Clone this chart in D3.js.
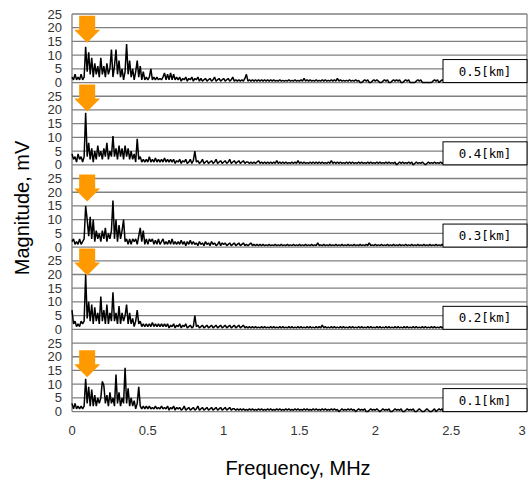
<!DOCTYPE html>
<html lang="en">
<head>
<meta charset="UTF-8">
<title>Spectrum by distance</title>
<style>
    body { margin: 0; background: #fff; }
    svg { display: block; }
    .tick-label { font-family: "Liberation Sans", Arial, sans-serif; font-size: 13px; fill: #333; }
    .axis-title { font-family: "Liberation Sans", Arial, sans-serif; font-size: 20px; fill: #000; }
    .dist-label { font-family: "DejaVu Sans Mono", monospace; font-size: 12.5px; fill: #000; }
</style>
</head>
<body>
<svg id="chart" width="529" height="482"></svg>
<script src="https://d3js.org/d3.v7.min.js"></script>
<script>
// distance labels, top panel first
const distances = ["0.5[km]", "0.4[km]", "0.3[km]", "0.2[km]", "0.1[km]"];
const xTicks = [0, 0.5, 1, 1.5, 2, 2.5, 3];
const yTicks = [0, 5, 10, 15, 20, 25];
const freqStep = 0.01; // MHz between samples
const arrowFreq = 0.1;
const arrowTip = [14.5, 19.4, 16.6, 19.6, 12.5];

// magnitude in mV, sampled every 0.01 MHz from 0 to 2.45 MHz
const mag05 = [
    2,1,3,1,2,1,3,1,2,13,
    4,11,3,9,2,7,3,6,2,9,
    3,6,2,7,3,5,12,2,6,12,
    3,8,2,5,1,4,14,3,8,2,
    5,1,4,8,2,6,1,4,1,2,
    1,2,5,1,2,1,2,1,1.5,1,
    2,3.5,1,3,1,3.5,1,3,1,2,
    1,2,0.5,1.5,1,2,0.5,1.5,1,2,
    0.5,1.5,1,2,0.5,1.5,0.5,1,1.5,0.5,
    1,1.5,0.5,1,2,0.5,1,1.5,0.5,1,
    1.5,0.5,1,1.5,0.5,1,2,0.5,1,0.5,
    1,0.5,1,0.5,1.5,3,0.5,1,0.5,1,
    0.5,1,0.5,1,0.5,1,0.5,1,0.5,1,
    0.5,1,0.5,1,0.5,0.8,0.5,1,0.5,0.8,
    0.5,0.8,0.5,1,0.5,0.8,0.5,1,0.5,0.8,
    0.5,1,0.5,1.5,0.5,1,0.5,1,0.5,0.8,
    0.5,1,0.5,0.8,0.5,1,0.5,1,0.5,0.8,
    0.5,1,0.5,1,0.5,1.5,0.5,1,0.5,0.8,
    0.5,0.8,0.5,1,0.5,0.8,0.5,1,0.5,0.8,
    0,0,0.5,1,0.5,1,0,0,0.5,1,
    0.5,1,0.5,0,0,0.5,1,0.5,1,0,
    0,0.5,1,0.5,1,0.5,1,0,0,0.5,
    1,0.5,1,0,0,0,0,0.5,1,0.5,
    1,0,0,0,0,0,0,0,0.5,1,
    0.5,1,0,0.5,1,0.5
];
const mag04 = [
    4,2,3,1,4,2,3,1,3,19,
    3,8,2,6,1,5,2,7,3,5,
    2,6,3,8,2,5,3,10.5,3,6,
    2,7,3,6,2,7,3,6,2,5,
    2,4,1,9.5,2,3,1,2,1,2,
    1,3,1,2,1,2.5,1,2,1,2,
    1,2.5,1,2,1,2,1,2,0.5,1.5,
    1,2,0.5,1.5,1,2,0.5,1,2,0.5,
    1.5,5,1,1.5,0.5,1,2,0.5,1,1.5,
    0.5,1,1.5,0.5,1,2,0.5,1,1.5,0.5,
    1,1.5,0.5,1,2,0.5,1,1.5,0.5,1,
    1.5,0.5,1,1.5,0.5,1,1,0.5,1,0.5,
    1,0.5,1,1.5,0.5,1,0.5,1,0.5,1,
    0.5,1,0.5,1,0.5,1.5,0.5,1,0.5,1,
    0.5,1,0.5,0.8,0.5,1,0.5,1,0.5,1.5,
    0.5,1,0.5,1,0.5,0.8,0.5,1,0.5,1,
    0.5,1,0.5,1,0.5,1,0.5,0.8,0.5,1,
    0.5,1.5,0.5,1,0.5,1,0.5,1,0.5,0.8,
    0.5,1,0.5,1,0.5,1,0.5,0.8,0.5,1,
    0.5,1,0.5,0.8,0.5,1,0.5,1,0.5,0.8,
    0.5,1,0.5,1,0.5,0.8,0.5,1,0.5,1,
    0.5,0.8,0.5,1,0,0.5,1,0.5,1,0.5,
    0.8,0.5,1,0.5,1,0,0.5,1,0.5,0.8,
    0.5,1,0.5,0,0.5,1,0.5,0.8,0.5,1,
    0.5,0.8,0.5,1,0.5,0.8
];
const mag03 = [
    2,3,1,2,1,3,1,2,3,15,
    10,4,11,3,10,2,6,3,5,2,
    6,3,7,2,5,3,6,17,3,10,
    2,8,3,6,10,2,3,1,3,1,
    3,2,3,1,4,7,2,6,1,3,
    1,3,2,3,1,2.5,1,3,1,2,
    3,1,2,1,2.5,1,3,1,2,1,
    2,1,2.5,1,2,0.5,2,1,2.5,1,
    2,1,1.5,0.5,2,1,1.5,0.5,2,1,
    1.5,0.5,2,1,1.5,0.5,1,2,0.5,1.5,
    1,1.5,0.5,1,1.5,0.5,1,1.5,0.5,1,
    1.5,0.5,1,1.5,0.5,1,0.5,1,1.5,0.5,
    1,0.5,1,0.5,1,0.5,1,0.5,0.8,0.5,
    1,0.5,0.8,0.5,1,0.5,0.8,0.5,1,0.5,
    0.8,0.5,1,0.5,0.8,0.5,1,0.5,0.8,0.5,
    1,0.5,0.8,0.5,1,0.5,0.8,0.5,1,0.5,
    0.8,0.5,1.5,0.5,0.8,0.5,1,0.5,0.8,0.5,
    1,0.5,0.8,0.5,1,0.5,0.8,0.5,1,0.5,
    0.8,0.5,1,0.5,0.8,0.5,1,0.5,0.8,0.5,
    1,0.5,0.8,0.5,1,0.5,1.5,0.5,0.8,0.5,
    1,0.5,0.8,0.5,1,0.5,0.8,0.5,1,0.5,
    0.8,0.5,1,0.5,0.8,0.5,1,0.5,0.8,0.5,
    1,0.5,0.8,0.5,1,0.5,0.8,0.5,1,0.5,
    0.8,0.5,1,0.5,0.8,0.5,1,0.5,0.8,0.5,
    1,0.5,0.8,0.5,1,0.5
];
const mag02 = [
    7,2,3,1,2,1,3,2,3,20,
    4,10,3,9,2,8,3,6,2,12,
    3,7,2,9,2,6,3,13.5,3,6,
    2,8.5,2,6,3,5,9,2,6,2,
    4,1,3,7,2,3,1,2,1,2,
    1,2,1,2.5,1,2,1,2,1,2,
    1,2,1,2,0.5,1.5,1,2,0.5,1.5,
    1,2,0.5,1.5,1,2,0.5,1,1.5,0.5,
    1,5,1,1.5,0.5,1,1.5,0.5,1,1.5,
    0.5,1,1.5,0.5,1,1.5,0.5,1,1.5,0.5,
    1,1.5,0.5,1,1.5,0.5,1,1.5,0.5,1,
    1.5,0.5,1,1.5,0.5,1,0.5,1,0.5,1,
    0.5,1,0.5,0.8,0.5,1,0.5,1,0.5,0.8,
    0.5,1,0.5,1,0.5,0.8,0.5,1,0.5,1,
    0.5,0.8,0.5,1,0.5,1,0.5,0.8,0.5,1,
    0.5,1,0.5,0.8,0.5,1,0.5,1,0.5,0.8,
    0.5,1,0.5,1,0.5,1.5,0.5,1,0.5,0.8,
    0.5,1,0.5,1,0.5,0.8,0.5,1,0.5,1,
    0.5,0.8,0.5,1,0.5,1,0.5,0.8,0.5,1,
    0.5,1,0.5,0.8,0.5,1,0.5,1,0.5,0.8,
    0.5,1,0.5,1,0.5,0.8,0.5,1,0.5,1,
    0.5,0.8,0.5,1,0.5,1,0.5,0.8,0.5,1,
    0.5,1,0.5,0.8,0.5,1,0.5,1,0.5,0.8,
    0.5,1,0.5,1,0.5,0.8,0.5,1,0.5,1,
    0.5,0.8,0.5,1,0.5,1
];
const mag01 = [
    3,1,3,1,2,1,2,1,2,12,
    3,9,2,8,2,6,2,5,3,5,
    11,9.5,3,6,2,7,3,5,2,13.5,
    3,7,2,5,3,16,3,8.5,2,5,
    2,4,1,3,9,2,1,2,1,2,
    1,2,1,1.5,1,2,1,1.5,1,2,
    1,1.5,1,2,0.5,1.5,1,2,0.5,1.5,
    1,1.5,0.5,1,2,0.5,1,1.5,0.5,1,
    1.5,0.5,1,2,0.5,1,1.5,0.5,1,1.5,
    0.5,1,1.5,0.5,1,1.5,0.5,1,1.5,0.5,
    1,1.5,0.5,1,1.5,0.5,1,1,0.5,1,
    0.5,1,0.5,1,0.5,0.8,0.5,1,0.5,1,
    0.5,0.8,0.5,1,0.5,1,0.5,0.8,0.5,1,
    0.5,1,0.5,0.8,0.5,1,0.5,1,0.5,0.8,
    0.5,1,0.5,1,0.5,0.8,0.5,1,0.5,1,
    0.5,0.8,0.5,1,0.5,1,0.5,0.8,0.5,1,
    0.5,1,0.5,0.8,0.5,1,0.5,1,0.5,0.8,
    0.5,1,0.5,1,0.5,0.8,0,0.5,1,0.5,
    0.8,0.5,1,0.5,1,0.5,0.8,0,0.5,1,
    0.5,0.8,0.5,1,0,0,0.5,1,0.5,0.8,
    0.5,1,0.5,0,0.5,1,0.5,0.8,0.5,1,
    0,0,0.5,1,0.5,0.8,0.5,1,0,0,
    0.5,1,0.5,0.8,0.5,1,0,0,0.5,1,
    0.5,0,0,0.5,1,0.5,0,0,0.5,1,
    0,0.5,1,0.5,1,0
];
const series = [mag05, mag04, mag03, mag02, mag01];

const svg = d3.select("#chart");

// layout
const plotLeft = 72, plotRight = 527;
const plotTop = 14, gridStep = 13.71;
const panelH = 5 * gridStep;     // 0..25
const panelPitch = 6 * gridStep; // one empty grid row between panels
const plotBottom = plotTop + 4 * panelPitch + panelH;

const x = d3.scaleLinear().domain([0, 3]).range([plotLeft, plotRight]);

// frame lines, left and right, all panels
[plotLeft, plotRight].forEach(function(xx) {
    svg.append("line")
        .attr("x1", xx).attr("x2", xx)
        .attr("y1", plotTop).attr("y2", plotBottom)
        .attr("stroke", "#808080").attr("stroke-width", 1.3);
});

const line = d3.line()
    .x((d, i) => x(i * freqStep));

series.forEach(function(values, p) {
    const y0 = plotTop + p * panelPitch;
    const y = d3.scaleLinear().domain([0, 25]).range([y0 + panelH, y0]);
    const g = svg.append("g");

    // grid lines
    g.selectAll(".grid")
        .data(yTicks)
        .join("line")
        .attr("class", "grid")
        .attr("x1", plotLeft).attr("x2", plotRight)
        .attr("y1", d => y(d)).attr("y2", d => y(d))
        .attr("stroke", "#808080").attr("stroke-width", 1.3);

    // y tick labels
    g.selectAll(".tick-label")
        .data(yTicks)
        .join("text")
        .attr("class", "tick-label")
        .attr("x", 62)
        .attr("y", d => y(d) + 4.5)
        .attr("text-anchor", "end")
        .text(d => d);

    // spectrum
    g.append("path")
        .datum(values)
        .attr("d", line.y(d => y(d)))
        .attr("fill", "none")
        .attr("stroke", "#000")
        .attr("stroke-width", 1.5)
        .attr("stroke-linejoin", "bevel");

    // distance box
    g.append("rect")
        .attr("x", 443).attr("y", y(0) - 23)
        .attr("width", plotRight - 443).attr("height", 23)
        .attr("fill", "#fff").attr("stroke", "#000").attr("stroke-width", 1);
    g.append("text")
        .attr("class", "dist-label")
        .attr("x", 485).attr("y", y(0) - 7)
        .attr("text-anchor", "middle")
        .text(distances[p]);

    // orange arrow pointing at the first peak
    const ax = x(arrowFreq), ay = y(arrowTip[p]);
    g.append("path")
        .attr("d", `M${ax - 8},${ay - 27} L${ax + 8},${ay - 27} L${ax + 8},${ay - 13}
                    L${ax + 13},${ay - 13} L${ax},${ay} L${ax - 13},${ay - 13}
                    L${ax - 8},${ay - 13} Z`)
        .attr("fill", "#ff9900");
});

// x tick labels (last one kept inside the window)
svg.selectAll(".xtick")
    .data(xTicks)
    .join("text")
    .attr("class", "tick-label xtick")
    .attr("x", d => Math.min(x(d), 522))
    .attr("y", 435)
    .attr("text-anchor", "middle")
    .text(d => d);

// axis titles
svg.append("text")
    .attr("class", "axis-title")
    .attr("x", 298).attr("y", 475)
    .attr("text-anchor", "middle")
    .text("Frequency, MHz");

svg.append("text")
    .attr("class", "axis-title")
    .attr("transform", "translate(29,208) rotate(-90)")
    .attr("text-anchor", "middle")
    .text("Magnitude, mV");
</script>
</body>
</html>
